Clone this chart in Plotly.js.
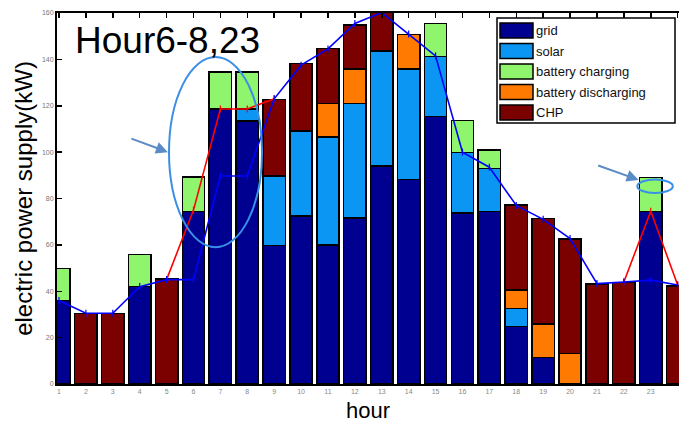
<!DOCTYPE html>
<html>
<head>
<meta charset="utf-8">
<script src="https://cdn.plot.ly/plotly-3.0.1.min.js"></script>
<style>
html,body{margin:0;padding:0;background:#fff;}
#chart{width:679px;height:423px;}
</style>
</head>
<body>
<div id="chart"></div>
<script>
// ---- data ----
const hours = [1,2,3,4,5,6,7,8,9,10,11,12,13,14,15,16,17,18,19,20,21,22,23,24];
const grid        = [36,0,0,42,0,74.5,118.6,113.4,59.8,72.5,60,71.6,94,88.3,115.3,73.7,74.5,24.7,11.5,0,0,0,74.3,0];
const solar       = [0,0,0,0,0,0,0,5.2,29.9,36.7,46.6,49.4,49.7,47.5,25.9,26.1,18.5,7.9,0,0,0,0,0,0];
const discharging = [0,0,0,0,0,0,0,0,0,0,14.4,14.8,0,14.9,0,0,0,7.9,14.4,13.2,0,0,0,0];
const chp         = [0,30.5,30.5,0,45.2,0,0,0,33,29.1,23.7,19,16.5,0,0,0,0,36.7,45.5,49.3,43.1,43.7,0,42.3];
const charging    = [13.9,0,0,13.9,0,14.8,15.9,15.9,0,0,0,0,0,0,14.2,13.8,7.9,0,0,0,0,0,14.7,0];
const demand      = [36,30.5,30.5,42,45,45,89.7,89.7,123,137.5,144.5,155.5,160.2,150.9,141.5,100,93.5,77,71,62.7,43.3,44,44.8,42.7];
const shiftHoursA = [5,6,7,8,9];
const shiftA      = [45,75,118.6,118.6,123];
const shiftHoursB = [22,23,24];
const shiftB      = [44,74.5,42.7];
const seriesNames = ["grid","solar","battery charging","battery discharging","CHP"];
const yTicks      = [0,20,40,60,80,100,120,140,160];
const noteText    = "Hour6-8,23";

// ---- styling ----
const colors = {
  "grid":"#000090",
  "solar":"#0a96f2",
  "battery charging":"#8ef56c",
  "battery discharging":"#ff7a00",
  "CHP":"#7b0000"
};
const nz = a => a.map(v => v === 0 ? null : v);
function barTrace(name, vals){
  return {type:"bar", x:hours, y:nz(vals), name:name, showlegend:false,
    marker:{color:colors[name], line:{color:"#000", width:1.5}}, hoverinfo:"x+y+name"};
}
const traces = [
  barTrace("grid", grid),
  barTrace("solar", solar),
  barTrace("battery discharging", discharging),
  barTrace("CHP", chp),
  barTrace("battery charging", charging),
  {type:"scatter", mode:"lines+markers", x:shiftHoursA, y:shiftA, showlegend:false,
   line:{color:"#ff0000", width:1.6}, marker:{symbol:"line-ns-open", size:5, color:"#ff0000", line:{color:"#ff0000", width:1.2}}},
  {type:"scatter", mode:"lines+markers", x:shiftHoursB, y:shiftB, showlegend:false,
   line:{color:"#ff0000", width:1.6}, marker:{symbol:"line-ns-open", size:5, color:"#ff0000", line:{color:"#ff0000", width:1.2}}},
  {type:"scatter", mode:"lines+markers", x:hours, y:demand, showlegend:false, cliponaxis:false,
   line:{color:"#0000ff", width:1.6}, marker:{symbol:"line-ns-open", size:5, color:"#0000ff", line:{color:"#0000ff", width:1.2}}},
  {type:"scatter", mode:"markers", x:hours, y:hours.map(()=>null), xaxis:"x2", showlegend:false, hoverinfo:"skip"}
];

// pixel -> paper helpers (plot area: x 57..679, y 13..384)
const L=57, R=679, T=13, B=384;
const px = p => (p-L)/(R-L);
const py = p => (B-p)/(B-T);

const shapes = [
  {type:"circle", xref:"x", yref:"y", x0:5.09, x1:8.55, y0:59, y1:141, line:{color:"#3a8fe6", width:2}},
  {type:"circle", xref:"x", yref:"y", x0:22.5, x1:23.82, y0:82.4, y1:88.2, line:{color:"#3a8fe6", width:2}},
  {type:"rect", xref:"paper", yref:"paper", x0:px(497), x1:px(675), y0:py(123), y1:py(18),
   line:{color:"#000", width:1.5}, fillcolor:"#fff", layer:"above"}
];
const annotations = [
  {xref:"paper", yref:"paper", x:px(73), y:py(41), xanchor:"left", yanchor:"middle", text:noteText,
   showarrow:false, font:{family:"Liberation Sans, Arial, sans-serif", size:37, color:"#000"}},
  {xref:"x", yref:"y", x:5.05, y:100, ax:-38, ay:-14, text:"", showarrow:true,
   arrowhead:2, arrowsize:1.2, arrowwidth:2, arrowcolor:"#5b8cc6"},
  {xref:"x", yref:"y", x:22.55, y:88, ax:-42, ay:-15, text:"", showarrow:true,
   arrowhead:2, arrowsize:1.2, arrowwidth:2, arrowcolor:"#5b8cc6"}
];
seriesNames.forEach((n,i)=>{
  const top = 23 + i*20.5;
  shapes.push({type:"rect", xref:"paper", yref:"paper", x0:px(500), x1:px(533), y0:py(top+15), y1:py(top),
    fillcolor:colors[n], line:{color:"#000", width:1.5}, layer:"above"});
  annotations.push({xref:"paper", yref:"paper", x:px(534), y:py(top+7.5), xanchor:"left", yanchor:"middle",
    text:n, showarrow:false, font:{family:"Liberation Sans, Arial, sans-serif", size:13, color:"#111"}});
});

const layout = {
  width:679, height:423,
  margin:{l:L, r:0, t:T, b:423-B},
  paper_bgcolor:"#fff", plot_bgcolor:"#fff",
  barmode:"stack", bargap:0.17,
  font:{family:"Liberation Sans, Arial, sans-serif", color:"#000"},
  xaxis:{range:[0.926,24.05], tickmode:"array", tickvals:hours, ticktext:hours.map(String),
    ticks:"", showgrid:false, zeroline:false, showline:true, linecolor:"#000", linewidth:2,
    tickfont:{size:7, color:"#888"},
    title:{text:"hour", font:{size:22, color:"#000"}, standoff:9}},
  xaxis2:{overlaying:"x", side:"top", range:[0.926,24.05], tickmode:"array", tickvals:hours,
    ticks:"inside", ticklen:5, tickwidth:1.5, tickcolor:"#000", showticklabels:false,
    showgrid:false, zeroline:false, showline:true, linecolor:"#000", linewidth:2},
  yaxis:{range:[0,160], tickmode:"array", tickvals:yTicks, ticktext:yTicks.map(String),
    ticks:"inside", ticklen:5, tickwidth:1.5, tickcolor:"#000",
    showgrid:false, zeroline:false, showline:true, linecolor:"#000", linewidth:2,
    tickfont:{size:7, color:"#777"},
    title:{text:"electric power supply(kW)", font:{size:24, color:"#000"}, standoff:3}},
  shapes:shapes, annotations:annotations, showlegend:false
};
Plotly.newPlot("chart", traces, layout, {displayModeBar:false, staticPlot:true});
</script>
</body>
</html>
